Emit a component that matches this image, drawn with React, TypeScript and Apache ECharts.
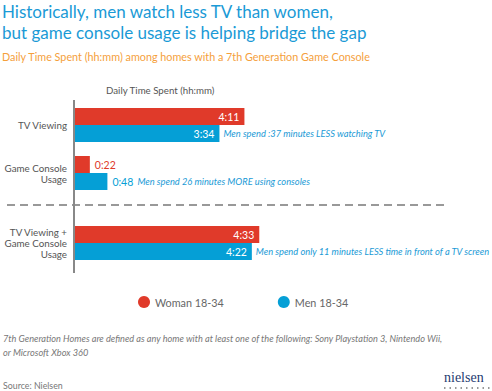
import React, { useEffect, useRef } from "react";
import * as echarts from "echarts";

const categoriesMain = ["TV Viewing", "Game Console\nUsage"];
const categoriesTotal = ["TV Viewing +\nGame Console\nUsage"];
const womanMain = [251, 22]; // minutes: 4:11, 0:22
const menMain = [214, 48]; // 3:34, 0:48
const womanTotal = [273]; // 4:33
const menTotal = [262]; // 4:22
const notesMain = [
  "Men spend :37 minutes LESS watching TV",
  "Men spend 26 minutes MORE using consoles",
];
const notesTotal = ["Men spend only 11 minutes LESS time in front of a TV screen"];
const seriesNames = ["Woman 18-34", "Men 18-34"];

const RED = "#e03a2a";
const BLUE = "#059fd6";
const FONT = "Lato, 'Noto Sans', sans-serif";

const fmt = (m: number) => `${Math.floor(m / 60)}:${String(m % 60).padStart(2, "0")}`;

const items = (values: number[], color: string) =>
  values.map((v) => ({
    value: v,
    label:
      v >= 60
        ? { show: true, position: "insideRight", color: "#fff", distance: 5 }
        : { show: true, position: "right", color, distance: 5 },
  }));

const noteItems = (values: number[]) =>
  values.map((v) => ({ value: 0, label: { distance: v >= 60 ? 4 : 30 } }));

export default function App() {
  const ref = useRef<HTMLDivElement>(null);
  useEffect(() => {
    const chart = echarts.init(ref.current!, null, { renderer: "svg" });
    const valueLabel = {
      show: true,
      fontSize: 10.5,
      fontFamily: FONT,
      formatter: (p: any) => fmt(p.value),
    };
    const noteLabel = (notes: string[]) => ({
      show: true,
      position: "right",
      fontSize: 9.3,
      fontStyle: "italic",
      fontFamily: FONT,
      color: "#1a9ad6",
      formatter: (p: any) => notes[p.dataIndex],
    });
    const xCommon = { type: "value", min: 0, max: 400, show: false };
    const yCommon = {
      type: "category",
      inverse: true,
      axisLine: { show: false },
      axisTick: { show: false },
      axisLabel: {
        margin: 8,
        color: "#555",
        fontSize: 9.8,
        lineHeight: 11,
        fontFamily: FONT,
        align: "right",
      },
    };
    const gridCommon = { left: 75, width: 270, outerBoundsMode: "none", containLabel: false };
    chart.setOption({
      animation: false,
      title: {
        text: "Historically, men watch less TV than women,\nbut game console usage is helping bridge the gap",
        subtext: "Daily Time Spent (hh:mm) among homes with a 7th Generation Game Console",
        left: 0,
        top: 0,
        padding: [1, 2],
        itemGap: 8,
        textStyle: {
          fontSize: 17,
          lineHeight: 21,
          fontWeight: "normal",
          color: "#1a9ad6",
          fontFamily: FONT,
        },
        subtextStyle: { fontSize: 10.8, color: "#f5a03c", fontFamily: FONT },
      },
      legend: {
        data: seriesNames,
        top: 291,
        left: 133,
        icon: "circle",
        itemWidth: 12,
        itemHeight: 12,
        itemGap: 54,
        textStyle: { fontSize: 10.8, color: "#666", fontFamily: FONT },
      },
      grid: [
        { ...gridCommon, top: 101, height: 96 },
        { ...gridCommon, top: 213, height: 60 },
      ],
      xAxis: [
        { ...xCommon, gridIndex: 0 },
        { ...xCommon, gridIndex: 1 },
      ],
      yAxis: [
        { ...yCommon, gridIndex: 0, data: categoriesMain },
        { ...yCommon, gridIndex: 1, data: categoriesTotal },
      ],
      series: [
        {
          name: seriesNames[0], type: "bar", xAxisIndex: 0, yAxisIndex: 0,
          barWidth: 17, barGap: "0%", itemStyle: { color: RED },
          label: valueLabel, data: items(womanMain, RED),
        },
        {
          name: seriesNames[1], type: "bar", xAxisIndex: 0, yAxisIndex: 0, stack: "m",
          barWidth: 17, itemStyle: { color: BLUE },
          label: valueLabel, data: items(menMain, BLUE),
        },
        {
          name: "noteMain", type: "bar", xAxisIndex: 0, yAxisIndex: 0, stack: "m",
          barWidth: 17, itemStyle: { color: BLUE },
          label: noteLabel(notesMain), data: noteItems(menMain),
        },
        {
          name: seriesNames[0], type: "bar", xAxisIndex: 1, yAxisIndex: 1,
          barWidth: 17, barGap: "0%", itemStyle: { color: RED },
          label: valueLabel, data: items(womanTotal, RED),
        },
        {
          name: seriesNames[1], type: "bar", xAxisIndex: 1, yAxisIndex: 1, stack: "t",
          barWidth: 17, itemStyle: { color: BLUE },
          label: valueLabel, data: items(menTotal, BLUE),
        },
        {
          name: "noteTotal", type: "bar", xAxisIndex: 1, yAxisIndex: 1, stack: "t",
          barWidth: 17, itemStyle: { color: BLUE },
          label: noteLabel(notesTotal), data: noteItems(menTotal),
        },
      ],
      graphic: [
        {
          type: "text", x: 106, y: 85,
          style: { text: "Daily Time Spent (hh:mm)", fontSize: 9.7, fill: "#555", fontFamily: FONT },
        },
        {
          type: "line", shape: { x1: 74, y1: 100, x2: 74, y2: 273 },
          style: { stroke: "#888", lineWidth: 2 }, z: 10,
        },
        {
          type: "line", shape: { x1: 7, y1: 205, x2: 448, y2: 205 },
          style: { stroke: "#999", lineWidth: 2, lineDash: [8, 5] },
        },
        {
          type: "text", x: 3, y: 331,
          style: {
            text: "7th Generation Homes are defined as any home with at least one of the following: Sony Playstation 3, Nintendo Wii,\nor Microsoft Xbox 360",
            fontSize: 9.2, lineHeight: 14, fontStyle: "italic", fill: "#777", fontFamily: FONT,
          },
        },
        {
          type: "text", x: 3, y: 381,
          style: { text: "Source: Nielsen", fontSize: 8.8, fill: "#777", fontFamily: FONT },
        },
        {
          type: "text", x: 444, y: 370,
          style: { text: "nielsen", fontSize: 14, fill: "#1f3c72", fontFamily: "'Liberation Serif', 'DejaVu Serif', serif" },
        },
        {
          type: "line", shape: { x1: 444, y1: 388, x2: 490, y2: 388 },
          style: { stroke: "#777", lineWidth: 1.5, lineDash: [1.5, 4] },
        },
      ],
    });
    return () => chart.dispose();
  }, []);
  return (
    <div
      ref={ref}
      style={{ position: "absolute", left: 0, top: 0, width: 492, height: 391, background: "#fff" }}
    />
  );
}
